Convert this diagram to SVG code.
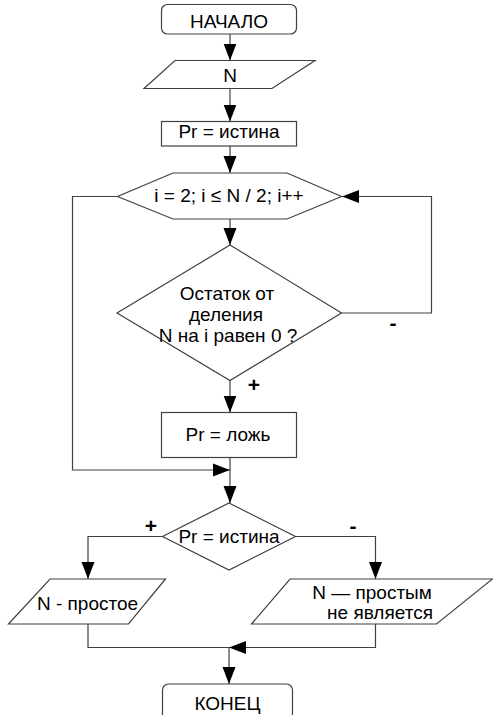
<svg xmlns="http://www.w3.org/2000/svg" width="493" height="715" viewBox="0 0 493 715">
<defs>
<style>
.s{fill:#fff;stroke:#404040;stroke-width:1.2}
.c{fill:none;stroke:#404040;stroke-width:1.2}
.t{font-family:"Liberation Sans",Arial,sans-serif;font-size:19px;fill:#000;text-anchor:middle}
.l{font-family:"Liberation Sans",Arial,sans-serif;font-size:21px;font-weight:bold;fill:#000;text-anchor:middle}
</style>
<marker id="a" markerUnits="userSpaceOnUse" markerWidth="17" markerHeight="14" refX="17" refY="7" orient="auto">
<path d="M0,0.5 L17,7 L0,13.5 z" fill="#000"/>
</marker>
</defs>
<rect width="493" height="715" fill="#fff"/>
<g id="connectors">
<path class="c" d="M230,34 V60.5" marker-end="url(#a)"/>
<path class="c" d="M230,88.5 V121.5" marker-end="url(#a)"/>
<path class="c" d="M230,146 V173" marker-end="url(#a)"/>
<path class="c" d="M230,219 V245" marker-end="url(#a)"/>
<path class="c" d="M230,380.5 V412.5" marker-end="url(#a)"/>
<path class="c" d="M230,457.5 V503" marker-end="url(#a)"/>
<path class="c" d="M117.5,196.5 H72.5 V470 H230" marker-end="url(#a)"/>
<path class="c" d="M341.5,313 H431.5 V196.5 H342" marker-end="url(#a)"/>
<path class="c" d="M162.5,536.5 H88 V579" marker-end="url(#a)"/>
<path class="c" d="M295.5,536.5 H375.5 V579" marker-end="url(#a)"/>
<path class="c" d="M88,624 V647.5 H230"/>
<path class="c" d="M375.5,624 V647.5 H229" marker-end="url(#a)"/>
<path class="c" d="M229,647.5 V684" marker-end="url(#a)"/>
<text class="l" x="254" y="392">+</text>
<text class="l" x="393" y="330">-</text>
<text class="l" x="151" y="533">+</text>
<text class="l" x="353" y="533">-</text>
</g>
<g id="start">
<rect class="s" x="161.5" y="4.5" width="135" height="29.5" rx="6"/>
<text class="t" x="229" y="28">НАЧАЛО</text>
</g>
<g id="input-n">
<path class="s" d="M175,60.5 H315 L272,88.5 H144 z"/>
<text class="t" x="230" y="82">N</text>
</g>
<g id="pr-true">
<rect class="s" x="161.5" y="121.5" width="135" height="24.5"/>
<text class="t" x="229" y="138">Pr = истина</text>
</g>
<g id="loop">
<path class="s" d="M173,173 H287 L341.5,196.5 L287,219 H173 L117.5,196.5 z"/>
<text class="t" x="229" y="202">i = 2; i ≤ N / 2; i++</text>
</g>
<g id="remainder">
<path class="s" d="M230,245 L341.5,313 L230,380.5 L117,313 z"/>
<text class="t" x="227" y="300">Остаток от</text>
<text class="t" x="226" y="321">деления</text>
<text class="t" x="228" y="342">N на i равен 0 ?</text>
</g>
<g id="pr-false">
<rect class="s" x="161.5" y="412.5" width="135" height="45"/>
<text class="t" x="228" y="441">Pr = ложь</text>
</g>
<g id="check">
<path class="s" d="M229,503 L295.5,536.5 L229,570 L162.5,536.5 z"/>
<text class="t" x="229" y="543">Pr = истина</text>
</g>
<g id="prime">
<path class="s" d="M50,579 H165.5 L128.5,624 H8.5 z"/>
<text class="t" x="87.5" y="610">N - простое</text>
</g>
<g id="not-prime">
<path class="s" d="M290,579 H492.5 L436.5,624 H251.5 z"/>
<text class="t" x="372" y="599">N — простым</text>
<text class="t" x="380" y="619">не является</text>
</g>
<g id="end">
<rect class="s" x="162.5" y="684" width="130" height="40" rx="6"/>
<text class="t" x="227.5" y="710">КОНЕЦ</text>
</g>
</svg>
